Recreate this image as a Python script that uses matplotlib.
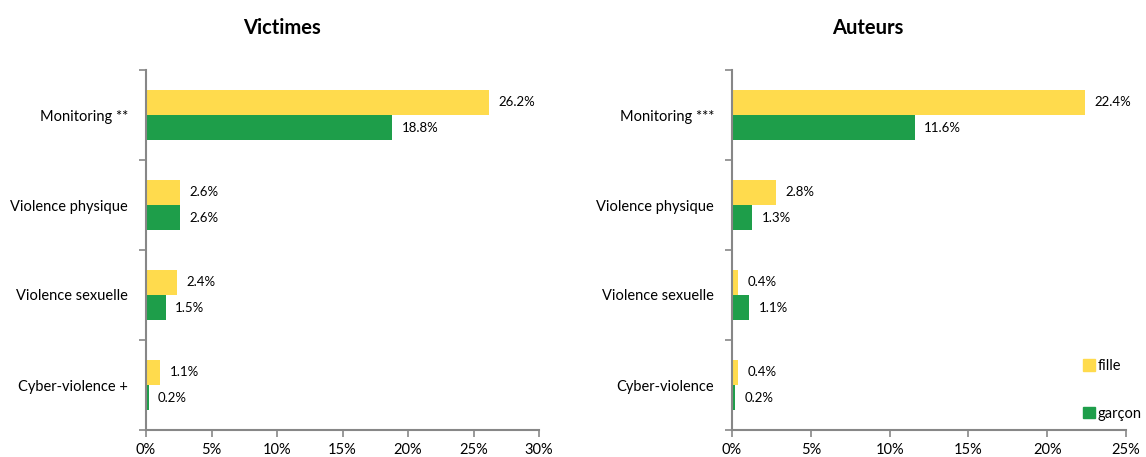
import matplotlib
matplotlib.use("Agg")
import matplotlib.pyplot as plt
from matplotlib.patches import Patch
from matplotlib.ticker import FixedLocator, FuncFormatter

plt.rcParams['font.family'] = ['Lato', 'DejaVu Sans']

# Data (percent)
victim_categories = ["Monitoring **", "Violence physique", "Violence sexuelle", "Cyber-violence +"]
victim_fille = [26.2, 2.6, 2.4, 1.1]
victim_garcon = [18.8, 2.6, 1.5, 0.2]

author_categories = ["Monitoring ***", "Violence physique", "Violence sexuelle", "Cyber-violence"]
author_fille = [22.4, 2.8, 0.4, 0.4]
author_garcon = [11.6, 1.3, 1.1, 0.2]

YELLOW = "#FFDB4D"
GREEN = "#1E9E4A"
AXIS = "#878787"

W, H = 1146, 457
fig = plt.figure(figsize=(W / 100, H / 100), dpi=100)


def panel(rect, title, cats, fille, garcon, xmax):
    ax = fig.add_axes(rect)
    n = len(cats)
    bh = 0.278
    pos = list(range(n))
    ax.barh([p - bh / 2 for p in pos], fille, height=bh, color=YELLOW, label="fille")
    ax.barh([p + bh / 2 for p in pos], garcon, height=bh, color=GREEN, label="garçon")
    for p, v in zip(pos, fille):
        ax.text(v + xmax * 0.024, p - bh / 2, f"{v:.1f}%", va="center", ha="left", fontsize=9.5)
    for p, v in zip(pos, garcon):
        ax.text(v + xmax * 0.024, p + bh / 2, f"{v:.1f}%", va="center", ha="left", fontsize=9.5)
    ax.set_ylim(n - 0.5, -0.5)
    ax.set_xlim(0, xmax)
    ax.set_yticks(pos)
    ax.set_yticklabels(cats, fontsize=10.5)
    ax.yaxis.set_minor_locator(FixedLocator([p - 0.5 for p in range(n + 1)]))
    ax.tick_params(axis="y", which="major", length=0, pad=13)
    ax.tick_params(axis="y", which="minor", length=5, color=AXIS, width=1.2)
    ax.set_xticks(range(0, xmax + 1, 5))
    ax.xaxis.set_major_formatter(FuncFormatter(lambda x, _: f"{x:.0f}%"))
    ax.tick_params(axis="x", length=5, color=AXIS, width=1.2, labelsize=10.5, pad=4)
    for s in ("top", "right"):
        ax.spines[s].set_visible(False)
    for s in ("left", "bottom"):
        ax.spines[s].set_color(AXIS)
        ax.spines[s].set_linewidth(1.5)
    fig.text(rect[0] + rect[2] * 0.345, 1 - 28 / H, title, ha="center", va="center",
             fontsize=14.5, fontweight="bold")
    return ax


ax1 = panel([146 / W, 1 - 430 / H, (539 - 146) / W, 360 / H], "Victimes",
            victim_categories, victim_fille, victim_garcon, 30)
ax2 = panel([732 / W, 1 - 430 / H, (1126 - 732) / W, 360 / H], "Auteurs",
            author_categories, author_fille, author_garcon, 25)

handles = [Patch(color=YELLOW), Patch(color=GREEN)]
fig.legend(handles, ["fille", "garçon"], loc="upper left",
           bbox_to_anchor=(1083 / W, 1 - 359 / H), frameon=False, fontsize=10.5,
           handlelength=0.8, handleheight=0.8, handletextpad=0.2, labelspacing=2.3,
           borderpad=0, borderaxespad=0)

fig.savefig("out.png", dpi=100)
